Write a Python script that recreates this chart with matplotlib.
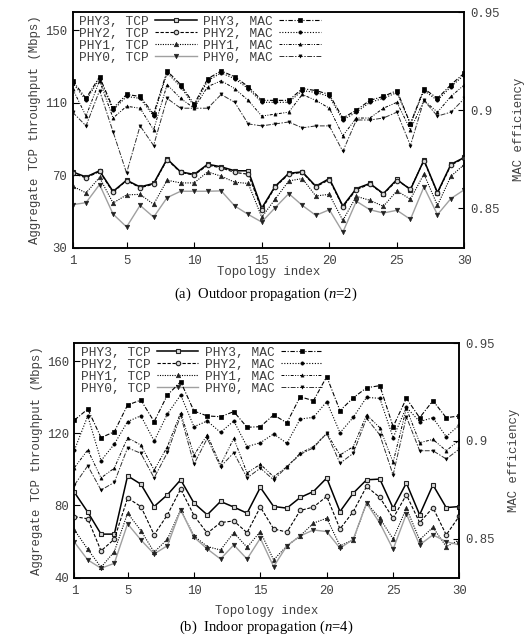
import matplotlib
matplotlib.use("Agg")
import matplotlib.pyplot as plt
from matplotlib.lines import Line2D

plt.rcParams["mathtext.fontset"] = "custom"
plt.rcParams["mathtext.rm"] = "Liberation Serif"
plt.rcParams["mathtext.it"] = "Liberation Serif:italic"

# ---------------- data ----------------
topology = list(range(1, 31))

# (a) Outdoor propagation (n=2)
top_tcp3 = [71.8, 69.0, 72.4, 61.0, 67.2, 63.5, 65.4, 78.9, 71.8, 70.4, 76.0, 74.6, 72.4, 72.4, 51.8,
            63.9, 71.0, 71.8, 63.9, 68.1, 53.0, 62.6, 65.4, 59.8, 67.6, 62.0, 78.3, 60.4, 76.0, 79.8]
top_tcp2 = [71.0, 68.5, 72.0, 60.5, 67.0, 63.0, 65.0, 78.5, 71.5, 70.0, 75.5, 74.0, 71.5, 70.5, 51.0,
            63.5, 70.5, 71.5, 63.5, 67.5, 52.5, 62.0, 65.0, 59.5, 67.0, 62.5, 78.0, 60.0, 75.5, 79.5]
top_tcp1 = [63.9, 60.2, 68.7, 54.6, 59.1, 59.4, 53.9, 67.2, 65.7, 65.7, 71.8, 69.4, 66.1, 65.4, 46.8,
            56.8, 66.8, 68.1, 58.5, 59.4, 45.0, 58.3, 56.1, 52.8, 61.3, 56.7, 70.6, 53.3, 69.4, 76.0]
top_tcp0 = [53.7, 54.8, 64.8, 48.5, 41.4, 53.3, 46.8, 57.6, 61.1, 61.1, 61.1, 61.3, 53.0, 48.3, 44.1,
            52.1, 59.8, 53.3, 47.8, 50.9, 38.5, 55.6, 50.9, 49.1, 50.6, 45.6, 63.5, 48.2, 57.1, 62.0]
top_mac3 = [0.915, 0.906, 0.917, 0.901, 0.908, 0.907, 0.898, 0.920, 0.913, 0.903, 0.916, 0.920, 0.917, 0.912, 0.905,
            0.905, 0.905, 0.911, 0.910, 0.908, 0.896, 0.900, 0.905, 0.907, 0.910, 0.893, 0.911, 0.906, 0.913, 0.919]
top_mac2 = [0.914, 0.905, 0.916, 0.900, 0.907, 0.906, 0.897, 0.919, 0.912, 0.902, 0.915, 0.919, 0.916, 0.911, 0.904,
            0.904, 0.904, 0.910, 0.909, 0.907, 0.895, 0.899, 0.904, 0.906, 0.909, 0.893, 0.910, 0.905, 0.912, 0.918]
top_mac1 = [0.911, 0.897, 0.915, 0.896, 0.902, 0.901, 0.890, 0.913, 0.906, 0.901, 0.912, 0.915, 0.911, 0.905, 0.897,
            0.898, 0.899, 0.908, 0.905, 0.901, 0.887, 0.896, 0.896, 0.901, 0.904, 0.890, 0.905, 0.899, 0.907, 0.913]
top_mac0 = [0.899, 0.892, 0.910, 0.889, 0.868, 0.892, 0.882, 0.906, 0.901, 0.901, 0.901, 0.908, 0.904, 0.893, 0.892,
            0.893, 0.894, 0.891, 0.892, 0.892, 0.879, 0.895, 0.895, 0.896, 0.899, 0.882, 0.905, 0.897, 0.899, 0.906]

# (b) Indoor propagation (n=4)
bot_tcp3 = [87.2, 76.3, 64.1, 64.1, 96.4, 91.8, 79.4, 85.9, 94.2, 81.3, 74.8, 82.2, 79.1, 75.7, 90.0,
            79.4, 78.5, 84.4, 87.7, 95.2, 76.6, 86.8, 94.2, 94.6, 78.5, 92.4, 74.8, 91.4, 78.8, 79.4]
bot_tcp2 = [73.8, 72.6, 54.8, 61.3, 84.1, 79.4, 63.7, 74.8, 89.1, 74.4, 64.6, 70.5, 71.4, 64.9, 79.1,
            67.0, 65.2, 77.2, 79.1, 85.0, 67.0, 76.6, 90.5, 84.4, 72.9, 85.9, 70.5, 78.8, 63.7, 74.2]
bot_tcp1 = [66.4, 55.7, 45.7, 54.4, 75.7, 66.1, 54.1, 61.3, 77.6, 63.1, 57.2, 55.3, 64.9, 56.8, 65.5,
            49.8, 57.6, 63.1, 70.2, 72.9, 57.6, 60.9, 81.3, 72.9, 61.4, 78.5, 60.9, 67.9, 57.2, 60.9]
bot_tcp0 = [59.6, 49.8, 45.2, 47.9, 69.8, 60.9, 53.1, 57.7, 77.6, 62.4, 55.9, 50.3, 58.1, 50.3, 61.8,
            46.1, 57.6, 63.1, 66.4, 65.5, 56.3, 61.3, 81.3, 70.2, 55.7, 75.3, 58.1, 63.7, 59.9, 58.1]
bot_mac3 = [0.9106, 0.9162, 0.9016, 0.9046, 0.9183, 0.9208, 0.9098, 0.9234, 0.9302, 0.9152, 0.9127, 0.9123, 0.9149, 0.9069, 0.9072,
            0.9132, 0.9092, 0.9225, 0.9205, 0.9328, 0.9154, 0.9220, 0.9271, 0.9282, 0.9072, 0.9217, 0.9118, 0.9205, 0.9118, 0.9127]
bot_mac2 = [0.8953, 0.9127, 0.8898, 0.8983, 0.9098, 0.9128, 0.8999, 0.9137, 0.9234, 0.9072, 0.9101, 0.9043, 0.9101, 0.8970, 0.8990,
            0.9035, 0.8987, 0.9111, 0.9120, 0.9200, 0.9041, 0.9120, 0.9222, 0.9217, 0.9016, 0.9171, 0.9098, 0.9118, 0.9021, 0.9081]
bot_mac1 = [0.8863, 0.8953, 0.8810, 0.8860, 0.9016, 0.8978, 0.8850, 0.8970, 0.9144, 0.8927, 0.9030, 0.8876, 0.9012, 0.8835, 0.8880,
            0.8816, 0.8867, 0.8936, 0.8970, 0.9038, 0.8927, 0.8970, 0.9132, 0.9067, 0.8890, 0.9166, 0.8990, 0.9007, 0.8949, 0.9004]
bot_mac0 = [0.8774, 0.8872, 0.8748, 0.8787, 0.8964, 0.8936, 0.8810, 0.8940, 0.9130, 0.8880, 0.9012, 0.8867, 0.8939, 0.8810, 0.8860,
            0.8800, 0.8867, 0.8930, 0.8964, 0.9038, 0.8885, 0.8936, 0.9115, 0.9030, 0.8825, 0.9123, 0.8949, 0.8949, 0.8907, 0.8958]

tcp_labels = ["PHY3, TCP", "PHY2, TCP", "PHY1, TCP", "PHY0, TCP"]
mac_labels = ["PHY3, MAC", "PHY2, MAC", "PHY1, MAC", "PHY0, MAC"]
x_ticks = [1, 5, 10, 15, 20, 25, 30]

# ---------------- style ----------------
MONO = "Liberation Mono"
SERIF = "Liberation Serif"
FS = 8.9
TXT = "#404040"

tcp_styles = [
    dict(color="black", ls="-", lw=1.1, marker="s", ms=3.2, mfc="#d8d8d8", mec="#222222", mew=0.8),
    dict(color="black", ls=(0, (3, 1.5)), lw=0.8, marker="o", ms=3.2, mfc="#d8d8d8", mec="#222222", mew=0.8),
    dict(color="black", ls=(0, (1, 1.2)), lw=0.8, marker="^", ms=3.3, mfc="#222222", mec="#222222", mew=0.4),
    dict(color="#a0a0a0", ls="-", lw=1.0, marker="v", ms=3.3, mfc="#222222", mec="#222222", mew=0.4),
]
mac_styles = [
    dict(color="black", ls=(0, (4, 1.5, 1, 1.5)), lw=0.8, marker="s", ms=3.0, mfc="black", mec="black", mew=0.5),
    dict(color="black", ls=(0, (1, 1.5)), lw=0.8, marker="o", ms=2.4, mfc="black", mec="black", mew=0.4),
    dict(color="black", ls=(0, (3, 1.5, 1, 1.5, 1, 1.5)), lw=0.7, marker="^", ms=2.3, mfc="black", mec="black", mew=0.4),
    dict(color="#303030", ls=(0, (5, 1.5, 1.5, 1.5)), lw=0.7, marker="v", ms=2.3, mfc="black", mec="black", mew=0.4),
]

fig = plt.figure(figsize=(5.32, 6.42), dpi=100)

def make_panel(rect, tcp_sets, mac_sets, ylim, yticks, caption, cap_y, xl_y, leg_font):
    ax = fig.add_axes(rect)
    ax2 = ax.twinx()
    for vals, st in zip(tcp_sets, tcp_styles):
        ax.plot(topology, vals, **st, zorder=3)
    for vals, st in zip(mac_sets, mac_styles):
        ax2.plot(topology, vals, **st, zorder=3)
    ax.set_xlim(1, 30)
    ax.set_ylim(*ylim)
    ax2.set_ylim(0.83, 0.95)
    ax.set_xticks(x_ticks)
    ax.set_yticks(yticks)
    ax2.set_yticks([0.85, 0.9, 0.95])
    ax2.set_yticklabels(["0.85", "0.9", "0.95"])
    for a in (ax, ax2):
        a.tick_params(direction="in", length=4, width=0.8, labelsize=FS, pad=4)
        for lab in a.get_xticklabels() + a.get_yticklabels():
            lab.set_family(MONO)
            lab.set_color(TXT)
        for sp in a.spines.values():
            sp.set_linewidth(1.1)
    ax.tick_params(axis="x", pad=5)
    ax.set_ylabel("Aggregate TCP throughput (Mbps)", family=MONO, fontsize=FS, color=TXT, labelpad=3)
    ax2.set_ylabel("MAC efficiency", family=MONO, fontsize=FS, color=TXT, labelpad=10)
    fig.text((rect[0] + rect[0] + rect[2]) / 2, xl_y, "Topology index", family=MONO, fontsize=FS,
             color=TXT, ha="center", va="center")
    fig.text(0.5, cap_y, caption, family=SERIF, fontsize=10.5, ha="center", va="center")

    # legend: text first, then sample (gnuplot style)
    handles = [Line2D([], [], **st) for st in tcp_styles] + [Line2D([], [], **st) for st in mac_styles]
    labels = tcp_labels + mac_labels
    leg = ax.legend(handles, labels, ncol=2, loc="upper left", bbox_to_anchor=(0.01, 0.995),
                    frameon=False, markerfirst=False, handlelength=3.2, handletextpad=0.5,
                    columnspacing=0.5, labelspacing=0.0, borderpad=0.2, borderaxespad=0,
                    prop={"family": MONO, "size": leg_font})
    for t in leg.get_texts():
        t.set_color(TXT)
    leg.set_zorder(10)
    return ax, ax2

make_panel([0.1363, 0.6143, 0.7368, 0.367],
           [top_tcp3, top_tcp2, top_tcp1, top_tcp0],
           [top_mac3, top_mac2, top_mac1, top_mac0],
           (30, 160), [30, 70, 110, 150],
           r"(a)  Outdoor propagation ($\mathit{n}$=2)", 1 - 294 / 642, 1 - 272 / 642, 9.3)

make_panel([0.1400, 0.1003, 0.7237, 0.3654],
           [bot_tcp3, bot_tcp2, bot_tcp1, bot_tcp0],
           [bot_mac3, bot_mac2, bot_mac1, bot_mac0],
           (40, 170), [40, 80, 120, 160],
           r"(b)  Indoor propagation ($\mathit{n}$=4)", 1 - 627 / 642, 1 - 611 / 642, 9.3)

fig.savefig("out.png", dpi=100)
